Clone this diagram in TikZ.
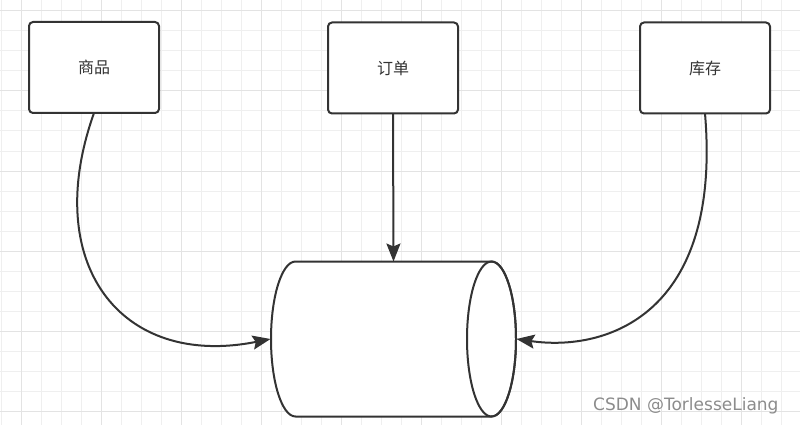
\documentclass[tikz,border=0pt]{standalone}
\usepackage{fontspec}
\newfontfamily\cjk{Noto Sans CJK SC}
\newfontfamily\wmfont{DejaVu Sans}
\usetikzlibrary{arrows.meta}
\definecolor{edgec}{HTML}{333333}
\definecolor{gridminor}{HTML}{EFEFEF}
\definecolor{gridmajor}{HTML}{E3E3E3}
\definecolor{wmc}{HTML}{8C8C8C}
\begin{document}
\begin{tikzpicture}[x=1pt,y=-1pt,
  box/.style={draw=edgec, line width=2pt, rounded corners=4pt, fill=white,
    minimum width=130pt, minimum height=91pt, inner sep=0pt, outer sep=0pt,
    font=\cjk\fontsize{16}{19}\selectfont, text=edgec},
  link/.style={draw=edgec, line width=2pt},
  shapeline/.style={draw=edgec, line width=2pt, fill=white},
  anchorbox/.style={inner sep=0pt, outer sep=0pt, minimum width=246pt, minimum height=155pt},
  watermark/.style={font=\wmfont\fontsize{17}{20}\selectfont, text=wmc, inner sep=0pt, anchor=base west}]
\useasboundingbox (0,0) rectangle (800,425);
\fill[white] (0,0) rectangle (800,425);
% grid
\foreach \k in {0,...,39} {
  \draw[gridminor, line width=1pt] ({1+20*\k},0) -- ({1+20*\k},425);
}
\foreach \k in {0,...,20} {
  \draw[gridminor, line width=1pt] (0,{11+20*\k}) -- (800,{11+20*\k});
}
\foreach \k in {0,...,9} {
  \draw[gridmajor, line width=1pt] ({21+80*\k},0) -- ({21+80*\k},425);
}
\foreach \k in {0,...,5} {
  \draw[gridmajor, line width=1pt] (0,{11+80*\k}) -- (800,{11+80*\k});
}
% boxes
\node[box] (goods) at (94,67.5) {商品};
\node[box] (order) at (393,68) {订单};
\node[box] (stock) at (705,68) {库存};
% cylinder (y axis points down, so angles are mirrored)
\path[shapeline] (295.5,261.5) -- (491.5,261.5)
  arc[start angle=-90, end angle=90, x radius=24.5, y radius=77.5]
  -- (295.5,416.5)
  arc[start angle=90, end angle=270, x radius=24.5, y radius=77.5] -- cycle;
\draw[edgec, line width=2pt] (491.5,339) ellipse[x radius=24.5, y radius=77.5];
\node[anchorbox] (db) at (393.5,339) {};
% connectors
\draw[link, -{Stealth[length=18pt,width=14pt,inset=3pt]}] (order.south) -- (db.north);
\draw[link, -{Stealth[length=18pt,width=14pt,inset=3pt]}] (goods.south) .. controls (40.5,263) and (120,369) .. (db.west);
\draw[link, -{Stealth[length=18pt,width=14pt,inset=3pt]}] (stock.south) .. controls (722,315) and (606,352) .. (db.east);
% watermark
\node[watermark] (wm) at (593,410) {CSDN @TorlesseLiang};
\end{tikzpicture}
\end{document}
